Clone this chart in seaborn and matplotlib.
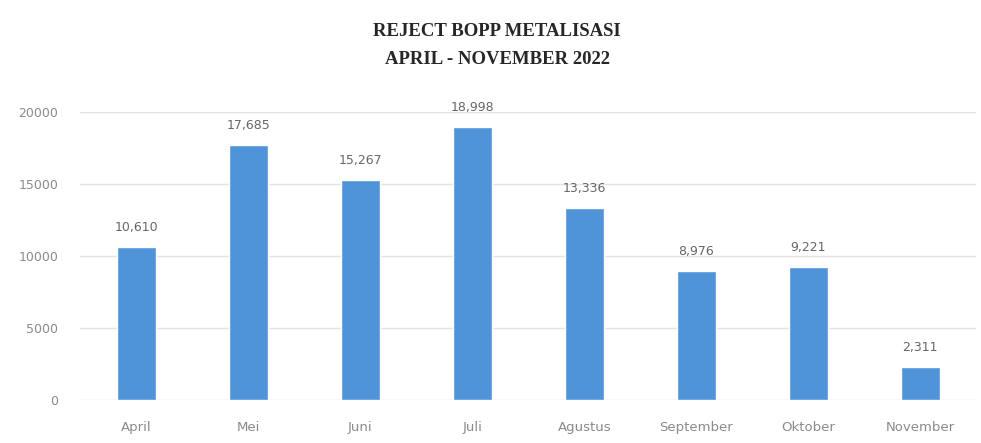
import pandas as pd
import seaborn as sns
import matplotlib.pyplot as plt

# Reject values per month
months = ['April', 'Mei', 'Juni', 'Juli', 'Agustus', 'September', 'Oktober', 'November']
reject = [10610, 17685, 15267, 18998, 13336, 8976, 9221, 2311]
y_ticks = [0, 5000, 10000, 15000, 20000]

df = pd.DataFrame({'bulan': months, 'reject': reject})

sns.set_style('white')
plt.rcParams['font.family'] = ['DejaVu Sans']

fig = plt.figure(figsize=(9.81, 4.43), dpi=100)
ax = fig.add_axes([0.082, 0.097, 0.913, 0.65])

sns.barplot(data=df, x='bulan', y='reject', color='#4f93d8', width=0.35,
            saturation=1, ax=ax)

ax.set_ylim(0, 20000)
ax.set_yticks(y_ticks)
ax.set_yticklabels([str(t) for t in y_ticks], color='#8a8a8a', fontsize=9)
ax.tick_params(axis='x', colors='#8a8a8a', labelsize=9.5, length=0, pad=15)
ax.tick_params(axis='y', length=0, pad=16)
ax.grid(axis='y', color='#e3e3e3', linewidth=1)
ax.set_axisbelow(True)
sns.despine(ax=ax, left=True, bottom=True)
ax.set_xlabel('')
ax.set_ylabel('')

# value labels above bars
for i, v in enumerate(reject):
    ax.text(i, v + 900, f'{v:,}', ha='center', va='bottom', fontsize=9,
            color='#666666', clip_on=False)

fig.text(0.507, 0.93, 'REJECT BOPP METALISASI', ha='center', va='center',
         fontsize=13.5, fontweight='bold', family='Liberation Serif')
fig.text(0.507, 0.865, 'APRIL - NOVEMBER 2022', ha='center', va='center',
         fontsize=13.5, fontweight='bold', family='Liberation Serif')

fig.savefig('out.png', dpi=100)
